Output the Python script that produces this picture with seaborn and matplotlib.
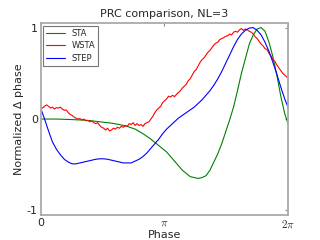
import numpy as np
import matplotlib
matplotlib.use("Agg")
import matplotlib.pyplot as plt
import seaborn as sns

# STA (green) curve
sta_phase = [0.0, 0.2, 0.4, 0.6, 0.8, 1.0, 1.2, 1.4, 1.6, 1.8, 2.0, 2.2, 2.4, 2.6,
             2.8, 3.0, 3.2, 3.4, 3.6, 3.8, 4.0, 4.1, 4.2, 4.3, 4.4, 4.5, 4.6, 4.7,
             4.8, 4.9, 5.0, 5.1, 5.2, 5.3, 5.4, 5.5, 5.6, 5.7, 5.8, 5.9, 6.0, 6.1,
             6.2, 6.283]
sta_vals = [0.0, 0.0, 0.0, -0.003, -0.006, -0.01, -0.015, -0.025, -0.035, -0.045,
            -0.06, -0.08, -0.11, -0.16, -0.22, -0.29, -0.36, -0.46, -0.56, -0.63,
            -0.65, -0.64, -0.62, -0.56, -0.47, -0.38, -0.27, -0.14, -0.01, 0.13,
            0.31, 0.50, 0.66, 0.82, 0.92, 0.985, 1.0, 0.96, 0.84, 0.68, 0.48, 0.25,
            0.06, -0.05]

# STEP (blue) curve
step_phase = [0.0, 0.1, 0.2, 0.3, 0.4, 0.5, 0.6, 0.7, 0.8, 0.9, 1.0, 1.1, 1.2, 1.3,
              1.4, 1.5, 1.6, 1.7, 1.8, 1.9, 2.0, 2.1, 2.2, 2.3, 2.4, 2.5, 2.6, 2.7,
              2.8, 2.9, 3.0, 3.1, 3.2, 3.3, 3.4, 3.5, 3.6, 3.7, 3.8, 3.9, 4.0, 4.1,
              4.2, 4.3, 4.4, 4.5, 4.6, 4.7, 4.8, 4.9, 5.0, 5.1, 5.2, 5.3, 5.4, 5.5,
              5.6, 5.7, 5.8, 5.9, 6.0, 6.1, 6.2, 6.283]
step_vals = [0.12, 0.0, -0.13, -0.25, -0.33, -0.39, -0.44, -0.47, -0.49, -0.49,
             -0.48, -0.47, -0.46, -0.45, -0.44, -0.435, -0.435, -0.44, -0.45, -0.46,
             -0.47, -0.48, -0.48, -0.48, -0.46, -0.44, -0.41, -0.37, -0.32, -0.27,
             -0.22, -0.16, -0.11, -0.07, -0.03, 0.01, 0.04, 0.07, 0.10, 0.13, 0.17,
             0.21, 0.26, 0.31, 0.37, 0.44, 0.52, 0.61, 0.70, 0.79, 0.87, 0.93, 0.97,
             0.995, 1.0, 0.97, 0.92, 0.84, 0.74, 0.62, 0.49, 0.35, 0.22, 0.13]

# WSTA (red) noisy curve, sampled every 0.05 rad
wsta_vals = [0.13, 0.12, 0.14, 0.155, 0.14, 0.12, 0.13, 0.11, 0.125, 0.12,
             0.13, 0.11, 0.095, 0.10, 0.07, 0.05, 0.04, 0.02, 0.01, 0.00,
             0.005, -0.01, 0.00, -0.02, -0.015, -0.03, -0.02, -0.04, -0.05, -0.04,
             -0.07, -0.09, -0.10, -0.12, -0.10, -0.13, -0.12, -0.10, -0.11, -0.09,
             -0.10, -0.08, -0.09, -0.07, -0.08, -0.05, -0.06, -0.04, -0.07, -0.05,
             -0.07, -0.06, -0.08, -0.05, -0.04, -0.03, 0.00, 0.03, 0.07, 0.10,
             0.12, 0.14, 0.18, 0.20, 0.22, 0.25, 0.24, 0.26, 0.245, 0.27,
             0.29, 0.31, 0.34, 0.36, 0.38, 0.42, 0.44, 0.48, 0.52, 0.54,
             0.58, 0.62, 0.65, 0.67, 0.70, 0.73, 0.75, 0.78, 0.81, 0.83,
             0.84, 0.87, 0.88, 0.89, 0.905, 0.91, 0.93, 0.92, 0.95, 0.96,
             0.95, 0.975, 0.99, 0.97, 0.985, 0.975, 0.96, 0.95, 0.93, 0.90,
             0.88, 0.85, 0.82, 0.80, 0.77, 0.76, 0.72, 0.69, 0.65, 0.63,
             0.59, 0.56, 0.53, 0.50, 0.48, 0.46, 0.45]
wsta_phase = [round(0.05 * i, 2) for i in range(len(wsta_vals) - 1)] + [6.283]

x_ticks = [0, np.pi, 2 * np.pi]
x_ticklabels = ["0", r"$\pi$", r"$2\pi$"]
y_ticks = [-1, 0, 1]
y_ticklabels = ["-1", "0", "1"]

sns.set_style("white")
plt.rcParams["font.family"] = ["DejaVu Sans"]
plt.rcParams["mathtext.fontset"] = "cm"

fig = plt.figure(figsize=(3.2, 2.4), dpi=100)
ax = fig.add_axes([0.127, 0.104, 0.773, 0.80])

sns.lineplot(x=sta_phase, y=sta_vals, color="#008000", lw=0.8, label="STA", ax=ax)
sns.lineplot(x=wsta_phase, y=wsta_vals, color="#ff0000", lw=0.8, label="WSTA", ax=ax)
sns.lineplot(x=step_phase, y=step_vals, color="#0000ff", lw=0.8, label="STEP", ax=ax)

ax.set_xlim(0, 2 * np.pi)
ax.set_ylim(-1.05, 1.05)
ax.set_xticks(x_ticks)
ax.set_xticklabels(x_ticklabels)
ax.set_yticks(y_ticks)
ax.set_yticklabels(y_ticklabels)
ax.tick_params(direction="in", length=2, width=0.8, color="#888888",
               labelsize=8, pad=2, top=True, right=True)

for sp in ax.spines.values():
    sp.set_color("#aaaaaa")
    sp.set_linewidth(1.3)

ax.set_title("PRC comparison, NL=3", fontsize=8, pad=4)
ax.set_xlabel("Phase", fontsize=8, labelpad=0)
ax.set_ylabel("Normalized \u0394 phase", fontsize=8, labelpad=2)

leg = ax.legend(loc="upper left", fontsize=6, frameon=True, fancybox=False,
                borderaxespad=0.3, handlelength=2.2, labelspacing=0.4)
leg.get_frame().set_edgecolor("#555555")
leg.get_frame().set_linewidth(0.8)

fig.savefig("out.png", dpi=100)
